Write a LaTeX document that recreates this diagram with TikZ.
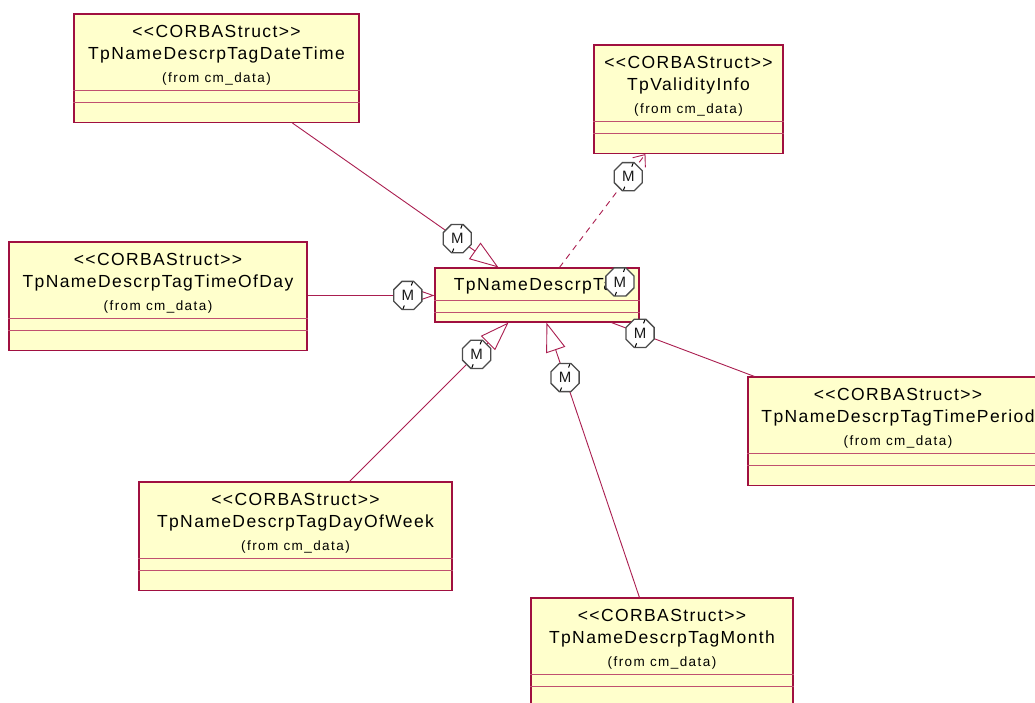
\documentclass[tikz,border=0pt]{standalone}
\usepackage{fontspec}
\setmainfont{Liberation Sans}
\newfontfamily\bigf[LetterSpace=8,Ligatures=TeXOff]{Liberation Sans}
\newfontfamily\smallf[LetterSpace=10.5,Ligatures=TeXOff]{Liberation Sans}
\usetikzlibrary{shapes.geometric,arrows.meta,calc,fit}
\definecolor{classfill}{RGB}{255,255,204}
\definecolor{umlred}{RGB}{160,16,64}
\definecolor{divred}{RGB}{192,80,112}
\definecolor{linered}{RGB}{170,30,80}
\tikzset{
  classbox/.style={draw=umlred, fill=classfill, line width=1.1pt, inner sep=0pt, rectangle},
  divline/.style={draw=divred, line width=0.9pt},
  stereo/.style={anchor=base, inner sep=0pt, font=\bigf\fontsize{17.5}{20}\selectfont},
  cname/.style={stereo},
  fromtxt/.style={anchor=base, inner sep=0pt, font=\smallf\fontsize{13.5}{16}\selectfont},
  assoc/.style={draw=linered, line width=0.9pt},
  gen/.style={assoc, -{Triangle[open, length=29pt, width=20pt]}},
  dep/.style={assoc, dash pattern=on 6pt off 5pt, -{Straight Barb[length=10pt, width=16pt]}},
  mbadge/.style={regular polygon, regular polygon sides=8, minimum size=30.5pt, solid,
    draw=black!70, line width=1.3pt, fill=white, inner sep=0pt, text=black!90,
    font=\fontsize{15}{15}\selectfont,
    path picture={
      \draw[-, solid, black, line width=1pt] ($(path picture bounding box.center)+(5,-14)$) -- ++(-1.5,4);
      \draw[-, solid, black, line width=1pt] ($(path picture bounding box.center)+(-3.5,10)$) -- ++(-1.5,4);
    }},
}
\newcommand\corbaclass[5]{%
  \coordinate (#1-nw) at (#2,#3);
  \coordinate (#1-se) at (#4,#3+108.5);
  \node[classbox, fit=(#1-nw)(#1-se)] (#1) {};
  \draw[divline] ($(#1.north west)+(0,76.5)$) -- ($(#1.north east)+(0,76.5)$);
  \draw[divline] ($(#1.north west)+(0,88.5)$) -- ($(#1.north east)+(0,88.5)$);
  \node[stereo] (#1-s) at ($(#1.north)+(0,24.5)$) {<<CORBAStruct>>};
  \node[cname] (#1-n) at ($(#1.north)+(0,46.5)$) {#5};
  \node[fromtxt] (#1-f) at ($(#1.north)+(0,69)$) {(from cm\_data)};
}
\begin{document}
\begin{tikzpicture}[x=1pt, y=-1pt]
\useasboundingbox (0,0) rectangle (1035,702);
\fill[white] (0,0) rectangle (1035,702);
\clip (0,0) rectangle (1035,702);

% classes
\corbaclass{dt}{74}{14}{359}{TpNameDescrpTagDateTime}
\corbaclass{vi}{594}{45}{783}{TpValidityInfo}
\corbaclass{tod}{9}{242}{307}{TpNameDescrpTagTimeOfDay}
\corbaclass{tp}{748}{377}{1048}{TpNameDescrpTagTimePeriod}
\corbaclass{dow}{139}{482}{452}{TpNameDescrpTagDayOfWeek}
\corbaclass{mo}{531}{598}{793}{TpNameDescrpTagMonth}

% central class
\coordinate (tag-nw) at (435,268);
\coordinate (tag-se) at (639,322);
\node[classbox, fit=(tag-nw)(tag-se)] (tag) {};
\draw[divline] ($(tag.north west)+(0,33)$) -- ($(tag.north east)+(0,33)$);
\draw[divline] ($(tag.north west)+(0,45)$) -- ($(tag.north east)+(0,45)$);
\node[cname] (tag-n) at ($(tag.north)+(2,23)$) {TpNameDescrpTag};
\node[mbadge] (tag-m) at ($(tag.north west)+(185.5,14.5)$) {M};

% connector end points
\coordinate (dt-a)  at ($(dt.south west)+(219,0)$);
\coordinate (tag-t1) at ($(tag.north west)+(64,0)$);
\coordinate (tod-a) at ($(tod.north east)+(0,54)$);
\coordinate (tag-t2) at ($(tag.north west)+(0,28)$);
\coordinate (dow-a) at ($(dow.north west)+(211,0)$);
\coordinate (tag-t3) at ($(tag.south west)+(74,0)$);
\coordinate (mo-a)  at ($(mo.north west)+(109,0)$);
\coordinate (tag-t4) at ($(tag.south west)+(112,0)$);
\coordinate (tag-d)  at ($(tag.north west)+(125,0)$);
\coordinate (vi-a)  at ($(vi.south west)+(52,0)$);
\coordinate (tag-p)  at ($(tag.south west)+(177,0)$);
\coordinate (tp-a)  at ($(tp.north west)+(7,0)$);

% connectors
\draw[gen] (dt-a) -- node[mbadge, pos=0.8] (m1) {M} (tag-t1);
\draw[gen] (tod-a) -- node[mbadge, pos=0.79] (m2) {M} (tag-t2);
\draw[gen] (dow-a) -- node[mbadge, pos=0.8] (m3) {M} (tag-t3);
\draw[gen] (mo-a) -- node[mbadge, pos=0.8] (m4) {M} (tag-t4);
\draw[dep] (tag-d) -- node[mbadge, pos=0.8] (m5) {M} (vi-a);
\draw[assoc] (tag-p) -- node[mbadge, pos=0.2] (m6) {M} (tp-a);
\end{tikzpicture}
\end{document}
